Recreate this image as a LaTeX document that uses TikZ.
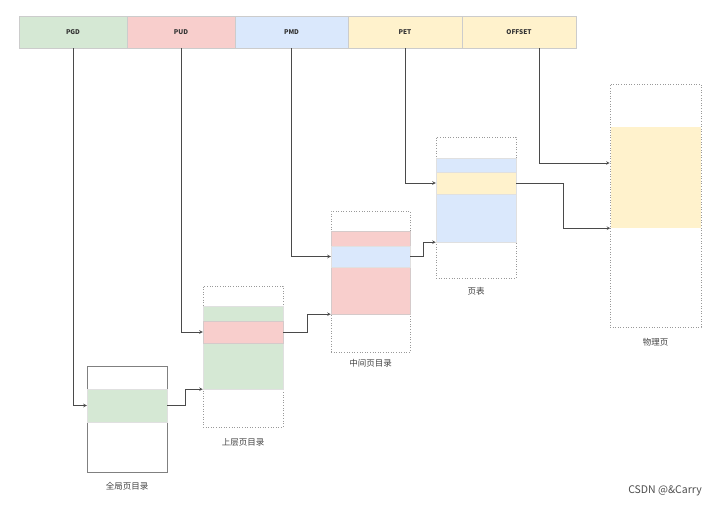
\documentclass[tikz,border=0pt]{standalone}
\usepackage{fontspec}
\setmainfont{Noto Sans CJK SC}
\usetikzlibrary{arrows, positioning}
\definecolor{pgGreen}{HTML}{D5E8D4}
\definecolor{pgRed}{HTML}{F8CECC}
\definecolor{pgBlue}{HTML}{DAE8FC}
\definecolor{pgYellow}{HTML}{FFF2CC}
\definecolor{lineGray}{HTML}{4A4A4A}
\tikzstyle{field} = [rectangle, minimum width=108pt, minimum height=32pt, inner sep=0pt, draw=black!20, font=\fontsize{6.5}{7}\selectfont\bfseries, text=black!80]
\tikzstyle{table} = [rectangle, minimum width=80pt, minimum height=141pt, inner sep=0pt, draw=black!40, dotted, line width=0.6pt]
\tikzstyle{band} = [rectangle, minimum width=80pt, inner sep=0pt, draw=black!12, line width=0.4pt]
\tikzstyle{caption} = [font=\fontsize{8.5}{9}\selectfont, text=black!75]
\tikzstyle{arrow} = [->,>=stealth, draw=lineGray, line width=0.6pt]

\begin{document}
\begin{tikzpicture}[x=1pt, y=-1pt]
    \useasboundingbox (0,0) rectangle (720,507);
    % virtual address fields
    \node (pgd) [field, fill=pgGreen] at (73,32) {PGD};
    \node (pud) [field, fill=pgRed] at (181,32) {PUD};
    \node (pmd) [field, fill=pgBlue, minimum width=113pt] at (291.5,32) {PMD};
    \node (pet) [field, fill=pgYellow, minimum width=114pt] at (405,32) {PET};
    \node (offset) [field, fill=pgYellow, minimum width=114pt] at (519,32) {OFFSET};

    % global page directory
    \node (gd) [table, solid, draw=black!50, minimum height=106pt] at (127,419) {};
    \node (gdGreen) [band, fill=pgGreen, minimum height=33pt] at (127,405.5) {};
    \node (gdCap) [caption, below=6pt of gd] {全局页目录};

    % upper page directory
    \node (ud) [table] at (243,356.5) {};
    \node (udGreen) [band, fill=pgGreen, minimum height=83pt] at (243,347.5) {};
    \node (udRed) [band, fill=pgRed, draw=pgRed!60!black!40, minimum height=22pt] at (243,332) {};
    \node (udCap) [caption, below=8pt of ud] {上层页目录};

    % middle page directory
    \node (md) [table, minimum width=79pt] at (370.5,281.5) {};
    \node (mdRed) [band, fill=pgRed, draw=pgRed!60!black!40, minimum width=79pt, minimum height=83pt] at (370.5,272.5) {};
    \node (mdBlue) [band, fill=pgBlue, minimum width=79pt, minimum height=21pt] at (370.5,256.5) {};
    \node (mdCap) [caption, below=4pt of md] {中间页目录};

    % page table
    \node (pt) [table] at (476,207.5) {};
    \node (ptBlue) [band, fill=pgBlue, minimum height=84pt] at (476,200) {};
    \node (ptYellow) [band, fill=pgYellow, minimum height=22pt] at (476,183) {};
    \node (ptCap) [caption, below=6pt of pt] {页表};

    % physical page
    \node (phys) [table, minimum width=91pt, minimum height=243pt] at (655.5,205.5) {};
    \node (physYellow) [band, fill=pgYellow, draw=none, minimum width=90pt, minimum height=101pt] at (655.5,177.5) {};
    \node (physCap) [caption, below=8pt of phys] {物理页};

    % index arrows
    \draw [arrow] (pgd.south) |- (gdGreen.west);
    \draw [arrow] (pud.south) |- (udRed.west);
    \draw [arrow] (pmd.south) |- (mdBlue.west);
    \draw [arrow] (pet.south) |- (ptYellow.west);
    \draw [arrow] ([xshift=20pt]offset.south) |- ([yshift=42.5pt]phys.west);

    % base arrows
    \draw [arrow] (gdGreen.east) -- ++(18,0) |- (udGreen.south west);
    \draw [arrow] (udRed.east) -- ++(24,0) |- (mdRed.south west);
    \draw [arrow] (mdBlue.east) -- ++(13,0) |- (ptBlue.south west);
    \draw [arrow] (ptYellow.east) -- ++(47,0) |- (physYellow.south west);

    \node (mark) [font=\fontsize{10.5}{12}\selectfont, text=black!70] at (665,491) {CSDN @\&Carry};
\end{tikzpicture}
\end{document}
